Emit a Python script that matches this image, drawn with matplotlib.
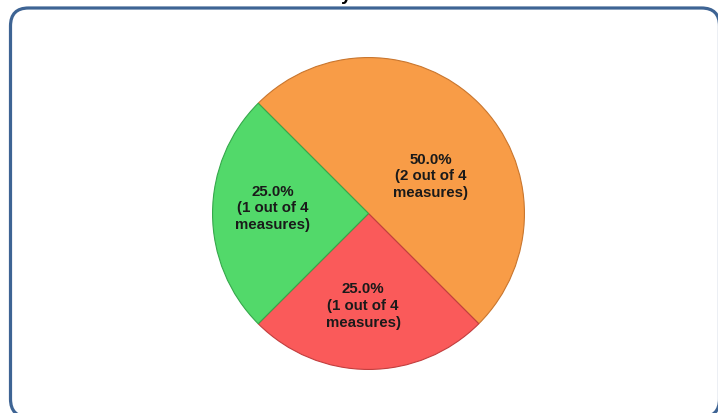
import matplotlib
matplotlib.use("Agg")
import matplotlib.pyplot as plt
from matplotlib.patches import FancyBboxPatch

# slice data, clockwise from upper left
categories = ["Orange", "Red", "Green"]
counts = [2, 1, 1]
colors = ["#F89C47", "#FA5A5A", "#52D96A"]
edges = ["#C9762E", "#C23E3E", "#35A84B"]
total = sum(counts)

W, H = 718, 414
fig = plt.figure(figsize=(W / 100, H / 100), dpi=100)
fig.patch.set_facecolor("white")

# background axes in pixel units for the frame
bg = fig.add_axes([0, 0, 1, 1])
bg.set_xlim(0, W)
bg.set_ylim(0, H)
bg.axis("off")
frame = FancyBboxPatch((10.5, -4), 709, H - 9 + 4,
                       boxstyle="round,pad=0,rounding_size=18",
                       facecolor="white", edgecolor="#3E6494", linewidth=2.3)
bg.add_patch(frame)
# cut-off title, only the descender shows
bg.text(341, H + 0.5, "y", fontsize=13.5, fontweight="bold",
        family="Liberation Sans", ha="left", va="baseline", clip_on=False)

# pie axes
r = 157.5
cx, cy = 368.5, H - 214.5
ax = fig.add_axes([(cx - r) / W, (cy - r) / H, 2 * r / W, 2 * r / H])
wedges, _ = ax.pie(counts, colors=colors, startangle=135, counterclock=False,
                   radius=1.0, wedgeprops=dict(linewidth=0.8))
for w, ec in zip(wedges, edges):
    w.set_edgecolor(ec)
ax.set_xlim(-1.01, 1.01)
ax.set_ylim(-1.01, 1.01)
ax.axis("off")

label_pos = [(0.40, 0.245), (-0.035, -0.587), (-0.613, 0.04)]
for c, (lx, ly) in zip(counts, label_pos):
    txt = "%.1f%%\n(%d out of %d\nmeasures)" % (100.0 * c / total, c, total)
    ax.text(lx, ly, txt, ha="center", va="center", fontsize=10.8,
            fontweight="bold", family="Liberation Sans", color="#1A1A1A",
            linespacing=1.25)

fig.savefig("out.png", dpi=100)
